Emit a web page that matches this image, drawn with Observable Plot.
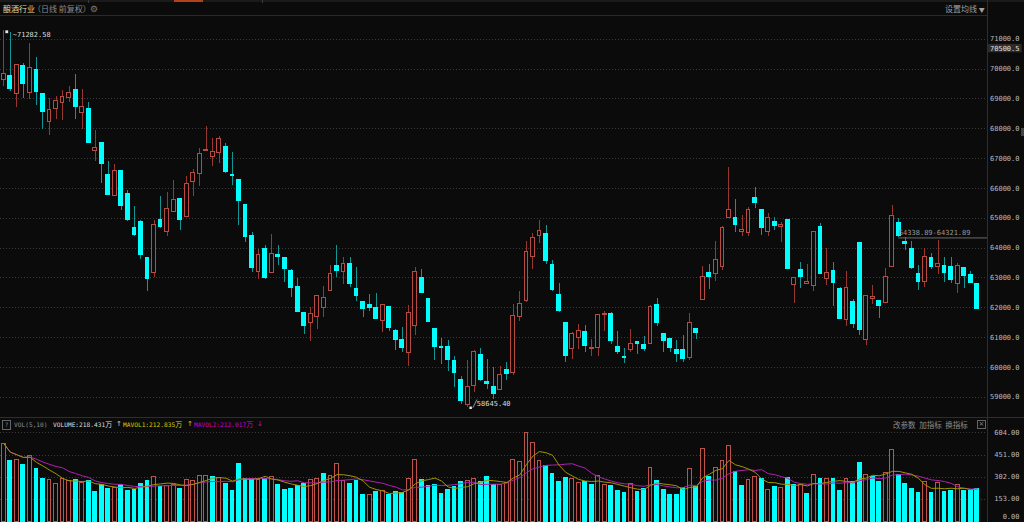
<!DOCTYPE html>
<html><head><meta charset="utf-8">
<script src="https://cdn.jsdelivr.net/npm/d3@7"></script>
<script src="https://cdn.jsdelivr.net/npm/@observablehq/plot@0.6"></script>
<style>
html,body{margin:0;padding:0;background:#0b0b0b;}
#wrap{position:relative;width:1024px;height:522px;background:#0b0b0b;overflow:hidden;font-family:"DejaVu Sans Mono",monospace;}
.a{position:absolute;white-space:nowrap;}
.cjk{font-family:"Noto Sans CJK SC","DejaVu Sans",sans-serif;}
#price{position:absolute;left:0;top:16px;}
#vol{position:absolute;left:0;top:429px;}
svg{overflow:visible;}
</style></head>
<body><div id="wrap">
  <div class="a" style="left:0;top:0;width:1024px;height:2px;background:#1a1a1a"></div>
  <div class="a" style="left:174px;top:0;width:29px;height:2px;background:#b3421c"></div>
  <div class="a" style="left:88px;top:0;width:1px;height:3px;background:#3a3a3a"></div>
  <div class="a" style="left:262px;top:0;width:1px;height:3px;background:#3a3a3a"></div>
  <div class="a cjk" style="left:3px;top:3px;font-size:8px;line-height:12px;color:#e2d7a4">酿酒行业</div>
  <div class="a cjk" style="left:33px;top:3px;font-size:8px;line-height:12px;color:#8c8c8c">（日线 前复权）</div>
  <div class="a" style="left:90px;top:3px;font-size:9px;line-height:12px;color:#7a7a7a;font-family:'DejaVu Sans'">⚙</div>
  <div class="a cjk" style="left:945px;top:3px;font-size:8px;line-height:12px;color:#a0a0a0">设置均线 <span style="font-size:6px">▼</span></div>
  <div class="a" style="left:0;top:15px;width:987px;height:1px;background:#2a2a2a"></div>
  <div class="a" style="left:987px;top:0;width:1px;height:522px;background:#2e2e2e"></div>
  <div class="a" style="left:0;top:417px;width:1024px;height:1px;background:#2e2e2e"></div>
  <div class="a" style="left:1021px;top:128px;width:3px;height:8px;background:#444"></div>

  <div class="a" style="left:2px;top:420px;width:7px;height:8px;border:1px solid #666;color:#888;font-size:6px;line-height:8px;text-align:center">?</div>
  <div class="a" style="left:14px;top:419px;font-size:6.2px;line-height:11px;color:#8e8e8e">VOL(5,10)</div>
  <div class="a" style="left:53px;top:419px;font-size:6.2px;line-height:11px;color:#dcdcdc">VOLUME:218.431<span class="cjk" style="font-size:7px">万</span></div>
  <div class="a" style="left:116px;top:419px;font-size:7px;line-height:11px;color:#cfcfcf;font-family:'DejaVu Sans'">↑</div>
  <div class="a" style="left:123px;top:419px;font-size:6.2px;line-height:11px;color:#d8d000">MAVOL1:212.835<span class="cjk" style="font-size:7px">万</span></div>
  <div class="a" style="left:187px;top:419px;font-size:7px;line-height:11px;color:#d8d000;font-family:'DejaVu Sans'">↑</div>
  <div class="a" style="left:194px;top:419px;font-size:6.2px;line-height:11px;color:#cc00cc">MAVOL2:212.017<span class="cjk" style="font-size:7px">万</span></div>
  <div class="a" style="left:257px;top:419px;font-size:7px;line-height:11px;color:#cc00cc;font-family:'DejaVu Sans'">↓</div>
  <div class="a cjk" style="left:893px;top:419px;font-size:7.5px;line-height:11px;color:#8c8c8c;word-spacing:2px">改参数 加指标 换指标</div>
  <div class="a" style="left:977px;top:420px;width:7px;height:7px;border:1px solid #666;color:#888;font-size:7px;line-height:7px;text-align:center;font-family:'DejaVu Sans'">×</div>

  <div id="price"></div>
  <div id="vol"></div>
</div>
<script>
// ---- data ----
const opens = [69622,69767,69178,70100,69189,69956,69156,68211,68645,68878,69022,69289,68511,68656,67245,67523,66456,65745,66578,65822,
64656,64878,63678,63156,64934,64545,65212,65656,65045,66211,66489,67267,67045,67178,67378,66434,66267,65434,64412,63212,
63956,63156,63778,63656,63234,62678,61823,61489,61689,61989,62545,63400,63189,63467,62634,62189,62100,61989,61545,62023,
61212,60912,60467,61378,63012,62289,61289,60689,60678,60212,59567,58745,59378,60400,59512,59345,59245,59900,59823,61689,
62212,63689,64412,64467,63434,62434,61489,60623,60989,61189,60623,60656,61745,61800,60689,60334,60567,60867,60734,60789,
62078,61123,60956,60567,60567,60323,61289,62267,63156,63134,63356,65012,65012,64545,64489,65689,65267,64545,64856,64689,
64934,62745,63267,62800,62712,64689,62967,63245,62623,61578,62178,64178,60912,62290,62234,62156,63356,64845,64189,63956,
63134,62878,63678,63378,63411,63378,62789,63345,63100,62789];
const highs = [71282.58,71211,70122,70178,70845,70378,69156,69022,69067,69289,69422,69822,69322,68878,67933,67523,66900,66800,66578,65912,
65378,64934,63678,64934,65711,65845,66267,65656,66412,66634,67323,68067,67656,67734,67489,67189,66267,65434,64523,63956,
64100,64467,64100,63678,63267,62989,61823,62023,62400,62712,63412,64100,63689,63689,63356,62189,62434,62467,62100,62045,
61267,61323,62078,63345,63267,62289,61289,60956,60900,60378,59678,60234,60567,60623,60267,59989,60023,60178,62100,62545,
64212,64489,64934,64767,63578,62823,61489,61156,61434,61400,60934,61767,61878,61823,61212,60623,61267,60867,61045,62067,
62300,61123,60956,60900,61067,61800,61289,63378,63434,64212,64712,66712,65634,65100,65356,66045,65289,65156,65023,64845,
64934,62989,63523,63434,64523,64823,63989,63523,62678,63212,62289,64178,62400,62733,62234,63311,65434,64989,64345,64211,
63400,63989,63822,64267,63689,63689,63489,63345,63211,62789];
const lows = [69400,69245,68711,69022,68989,68767,67989,67767,68322,68267,68878,68300,67989,67489,66911,66156,65767,65745,65245,64878,
64378,63622,62545,63012,64656,64400,65212,64600,65045,65712,66078,67250,66745,66845,66489,66100,64767,64178,63189,62956,
62956,63156,63400,62856,62345,61823,61100,60878,61267,61678,62545,63023,62789,62678,62212,61678,61878,61600,61156,61212,
60567,60512,60045,61078,62467,61489,60245,60100,59845,59323,58745,58645.40,59156,59512,59267,58934,59245,59567,59712,61545,
62178,63289,64156,63434,62545,61845,60178,60267,60600,60512,60356,60356,61212,60767,60434,60134,60512,60434,60545,60789,
61378,60512,60512,60156,60178,60245,60934,62267,62623,62878,63245,65012,64512,64378,64378,65322,64434,64400,64578,64178,
63289,62134,62634,62800,62545,63100,62745,62045,61600,61378,61300,61067,60734,62100,61634,62156,63356,64356,63934,63289,
62578,62689,63289,63100,62845,62800,62467,62656,62800,61956];
const closes = [69845,69322,70122,69511,70045,69234,68545,68622,68934,69067,69200,68711,68733,67512,67356,66823,65767,66578,65412,64956,
64434,63767,62967,64767,64711,65322,65600,64956,66134,66523,67156,67289,67212,67656,66545,66412,65567,64378,63323,63767,
63012,63789,63712,63289,62645,61867,61378,61800,62378,62323,63134,63245,63467,62789,62378,61956,61989,61623,62078,61323,
60912,60656,61823,63189,62489,61512,60689,60656,60245,59823,58878,59356,60523,59578,59456,59100,59734,59767,61734,62134,
63856,64323,64578,63578,62600,61878,60378,61123,61212,60712,60656,61767,61800,60900,60512,60312,60789,60767,60600,62023,
61489,60878,60656,60456,60289,61489,61156,63045,63023,63600,64656,65289,64767,64600,65289,65512,64656,65023,64734,64767,
63289,62989,63045,62878,64523,63134,63156,62823,61623,62656,61467,61245,62400,62356,62045,63045,65067,64412,64123,63345,
62845,63689,63356,63456,63178,62934,63411,63067,62822,61956];
const volumes = [530,414,418,382,445,355,288,279,257,288,273,279,261,275,199,250,221,228,250,210,
217,255,273,300,233,244,246,221,279,273,311,311,302,295,255,210,389,288,290,279,
290,300,250,217,221,244,255,284,288,324,311,389,277,255,273,183,177,199,210,183,
199,194,290,418,284,239,246,190,217,233,268,277,290,266,302,250,250,261,418,407,
604,535,414,378,322,266,295,288,261,266,250,311,250,239,210,194,255,201,221,362,
273,217,177,183,228,355,233,490,300,362,411,515,340,239,279,302,290,217,233,228,
295,246,250,190,313,290,288,288,210,288,266,396,317,305,271,327,485,316,255,221,
192,266,192,260,203,210,249,210,210,218.43];
const priceTicks = [59000,60000,61000,62000,63000,64000,65000,66000,67000,68000,69000,70000,71000];
const volTicks = [153,302,451,604];
const highLabel = "71282.58", lowLabel = "58645.40";
const refLine = {value: 64338.89, from: 137, text: "64338.89-64321.89"};
const markPrice = 70500.5;

// ---- styles ----
const BG = "#0b0b0b", RED = "#b84a44", RED_WICK = "#97372f", VOL_RED = "#c0524c", CYAN = "#00ffff", CYAN_WICK = "#119595";
const GRID = "#3a3a3a", AXIS_TXT = "#b9b9b9";

const candles = opens.map((o, i) => ({
  i, open: o, high: highs[i], low: lows[i], close: closes[i], vol: volumes[i],
  up: closes[i] >= o,
  volUp: i === 0 ? closes[i] >= o : closes[i] >= closes[i - 1]
}));
const N = candles.length;
const xEnd = N + 0.57;
const up = candles.filter(d => d.up), down = candles.filter(d => !d.up);
const vUp = candles.filter(d => d.volUp), vDown = candles.filter(d => !d.volUp);
const HW = 0.29;
const xOpt = {type: "linear", domain: [-0.5, xEnd], range: [0, 987], axis: null};
const common = {width: 1024, marginTop: 0, marginBottom: 0, marginLeft: 0, marginRight: 37,
  style: {background: "none", fontFamily: "'DejaVu Sans Mono', monospace", fontSize: "7px", overflow: "visible"}};

const price = Plot.plot({
  ...common, height: 401,
  x: xOpt,
  y: {domain: [59000, 71000], range: [380.7, 22.7]},
  marks: [
    Plot.ruleY(priceTicks, {x1: -0.5, x2: xEnd, stroke: GRID, strokeDasharray: "1,2", shapeRendering: "crispEdges"}),
    Plot.axisY(priceTicks, {anchor: "right", tickSize: 0, tickPadding: 32, textAnchor: "end", tickFormat: d3.format(".1f"), fill: AXIS_TXT, label: null}),
    Plot.ruleX(up, {x: "i", y1: "low", y2: "high", stroke: RED_WICK, shapeRendering: "crispEdges"}),
    Plot.ruleX(down, {x: "i", y1: "low", y2: "high", stroke: CYAN_WICK, shapeRendering: "crispEdges"}),
    Plot.rect(up, {x1: d => d.i - HW, x2: d => d.i + HW, y1: "open", y2: "close", fill: BG, stroke: RED, shapeRendering: "crispEdges"}),
    Plot.rect(down, {x1: d => d.i - HW, x2: d => d.i + HW, y1: "open", y2: "close", fill: CYAN, stroke: CYAN, shapeRendering: "crispEdges"}),
    // high / low markers
    Plot.dot([candles[0]], {x: "i", y: "high", symbol: "square", r: 1.6, fill: "#e8e8e8", dx: 3, dy: 1}),
    Plot.text([candles[0]], {x: "i", y: "high", text: () => "~" + highLabel, dx: 9, dy: 3.5, textAnchor: "start", fill: "#dcdcdc"}),
    Plot.dot([candles[71]], {x: "i", y: "low", symbol: "square", r: 1.4, fill: "#e8e8e8", dx: 3, dy: 0}),
    Plot.text([candles[71]], {x: "i", y: "low", text: () => "╱" + lowLabel, dx: 5, dy: -4, textAnchor: "start", fill: "#dcdcdc"}),
    // reference line
    Plot.ruleY([refLine.value], {x1: refLine.from, x2: xEnd, stroke: "#6a6a6a"}),
    Plot.text([refLine.value], {x: refLine.from, y: d => d, text: () => refLine.text, dy: -5, textAnchor: "start", fill: "#9a9a9a"}),
    // marked price box on the axis
    Plot.rect([markPrice], {x1: xEnd + 0.15, x2: xEnd + 5.3, y1: d => d - 140, y2: d => d + 140, dy: -5.5, fill: "#2b2b2b"}),
    Plot.text([markPrice], {x: xEnd, y: d => d, text: d => d3.format(".1f")(d), dx: 32, dy: -5.5, textAnchor: "end", fill: "#e0e0e0"})
  ]
});
document.getElementById("price").append(price);

const vol = Plot.plot({
  ...common, height: 93,
  x: xOpt,
  y: {domain: [0, 604], range: [92, 3.2]},
  marks: [
    Plot.ruleY(volTicks, {x1: -0.5, x2: xEnd, stroke: GRID, strokeDasharray: "1,2", shapeRendering: "crispEdges"}),
    Plot.axisY(volTicks, {anchor: "right", tickSize: 0, tickPadding: 32, textAnchor: "end", tickFormat: d3.format(".2f"), fill: AXIS_TXT, label: null}),
    Plot.text([0], {x: xEnd, y: d => d, text: d => d3.format(".2f")(d), dx: 32, dy: -4.5, textAnchor: "end", fill: AXIS_TXT}),
    Plot.rect(vDown, {x1: d => d.i - HW, x2: d => d.i + HW, y1: 0, y2: "vol", fill: CYAN, stroke: CYAN, shapeRendering: "crispEdges"}),
    Plot.rect(vUp, {x1: d => d.i - HW, x2: d => d.i + HW, y1: 0, y2: "vol", fill: BG, stroke: VOL_RED, shapeRendering: "crispEdges"}),
    Plot.lineY(candles, Plot.windowY({k: 10, anchor: "end"}, {x: "i", y: "vol", stroke: "#b020b0", strokeWidth: 1})),
    Plot.lineY(candles, Plot.windowY({k: 5, anchor: "end"}, {x: "i", y: "vol", stroke: "#a09400", strokeWidth: 1}))
  ]
});
document.getElementById("vol").append(vol);
</script>
</body></html>
